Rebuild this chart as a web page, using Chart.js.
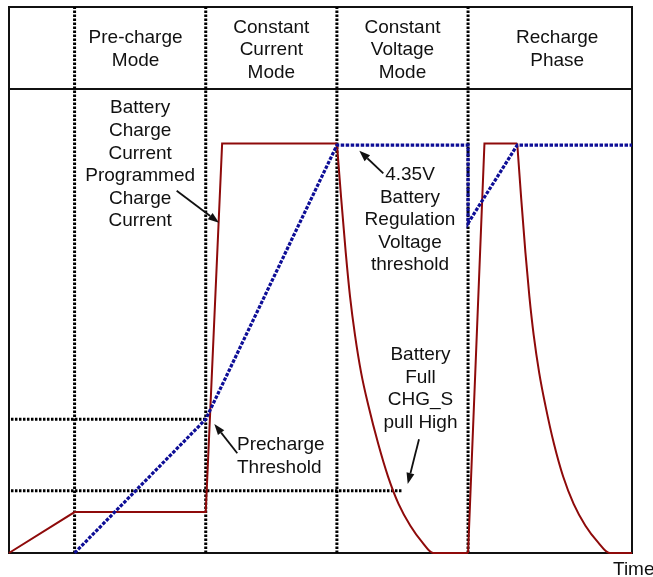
<!DOCTYPE html>
<html><head><meta charset="utf-8">
<script src="https://cdn.jsdelivr.net/npm/chart.js@4.4.1/dist/chart.umd.min.js"></script>
<style>html,body{margin:0;padding:0;background:#fff}canvas{display:block}</style>
</head><body>
<canvas id="c" width="653" height="577"></canvas>
<script>
// ---- data (time units on x, relative level 0..100 on y) ----
const phaseNames = [["Pre-charge","Mode"],["Constant","Current","Mode"],["Constant","Voltage","Mode"],["Recharge","Phase"]];
const phaseLabelX = [1.93, 4.0, 6.0, 8.36];
const phaseLabelY = [93.35, 95.3, 95.3, 93.35];
const phaseBoundaries = [1, 3, 5, 7];
const headerLevel = 85;

const currentStep = [[0,0],[1,7.5],[3,7.5],[3.25,75],[5,75]];
const currentTaper = [[5,75],[5.065,65],[5.135,55],[5.2,47],[5.275,40],[5.37,33],[5.48,27],[5.63,20],[5.78,14],[5.94,9],[6.12,5],[6.3,2],[6.47,0],[7,0]];
const currentRestart = [[7,0],[7.25,75],[7.75,75]];
const currentRetaper = [[7.75,75],[7.81,65],[7.875,55],[7.935,47],[8.0,40],[8.085,33],[8.18,27],[8.31,20],[8.45,14],[8.61,9],[8.79,5],[8.98,2],[9.16,0],[9.5,0]];
const batteryVoltage = [[1,0],[3,24.5],[5,74.7],[7,74.7],[7,60.4],[7.75,74.7],[9.5,74.7]];
const prechargeThreshold = [[0.03,24.5],[3,24.5]];
const fullThreshold = [[0.03,11.4],[6,11.4]];

const notes = [
  {lines:["Battery","Charge","Current","Programmed","Charge","Current"], x:2.0, y:80.53, align:'center'},
  {lines:["4.35V","Battery","Regulation","Voltage","threshold"], x:6.115, y:68.32, align:'center'},
  {lines:["Precharge","Threshold"], x:3.477, y:18.86, align:'left'},
  {lines:["Battery","Full","CHG_S","pull High"], x:6.275, y:35.35, align:'center'},
  {lines:["Time"], x:9.21, y:-4.03, align:'left'}
];
const arrows = [
  {from:[2.557,66.36], to:[3.202,60.49]},
  {from:[5.708,69.54], to:[5.342,73.68]},
  {from:[3.481,18.26], to:[3.131,23.63]},
  {from:[6.252,20.82], to:[6.080,12.64]}
];

// ---- styles ----
const RED = '#8e0a0a', BLUE = '#0d0d96', BLACK = '#000';
const FONT = '19px "Liberation Sans", Arial, sans-serif';
const LINE_H = 22.6;

const pts = a => a.map(p => ({x:p[0], y:p[1]}));
function lineDs(data, color, width, dash, order, extra) {
  return Object.assign({data: pts(data), borderColor: color, borderWidth: width, borderDash: dash || [],
    pointRadius: 0, fill: false, tension: 0, clip: false, order: order, borderCapStyle: 'butt'}, extra || {});
}

const datasets = [
  lineDs(batteryVoltage, BLUE, 3.2, [3.5, 1.5], 0),
  lineDs(currentStep, RED, 2, null, 1),
  lineDs(currentTaper, RED, 2, null, 1, {cubicInterpolationMode: 'monotone'}),
  lineDs(currentRestart, RED, 2, null, 1),
  lineDs(currentRetaper, RED, 2, null, 1, {cubicInterpolationMode: 'monotone'}),
  lineDs(prechargeThreshold, BLACK, 3, [2.5, 1.5], 2),
  lineDs(fullThreshold, BLACK, 3, [2.5, 1.5], 2)
];
phaseBoundaries.forEach(t => datasets.push(lineDs([[t,0],[t,100]], BLACK, 3, [2.5, 1.5], 2)));

const framePlugin = {
  id: 'frame',
  beforeDatasetsDraw(chart) {
    const {ctx, chartArea: a, scales: {y}} = chart;
    ctx.save();
    ctx.strokeStyle = '#111';
    ctx.lineWidth = 2;
    ctx.strokeRect(a.left, a.top, a.right - a.left, a.bottom - a.top);
    const hy = y.getPixelForValue(headerLevel);
    ctx.beginPath(); ctx.moveTo(a.left, hy); ctx.lineTo(a.right, hy); ctx.stroke();
    ctx.restore();
  },
  afterDatasetsDraw(chart) {
    const {ctx, scales: {x, y}} = chart;
    ctx.save();
    ctx.fillStyle = '#111';
    ctx.font = FONT;
    ctx.textBaseline = 'alphabetic';
    const drawLines = (lines, px, py, align) => {
      ctx.textAlign = align;
      lines.forEach((t, i) => ctx.fillText(t, px, py + i * LINE_H));
    };
    phaseNames.forEach((lines, i) => drawLines(lines, x.getPixelForValue(phaseLabelX[i]), y.getPixelForValue(phaseLabelY[i]), 'center'));
    notes.forEach(n => drawLines(n.lines, x.getPixelForValue(n.x), y.getPixelForValue(n.y), n.align));
    ctx.strokeStyle = '#111';
    ctx.lineWidth = 1.8;
    arrows.forEach(a => {
      const x1 = x.getPixelForValue(a.from[0]), y1 = y.getPixelForValue(a.from[1]);
      const x2 = x.getPixelForValue(a.to[0]), y2 = y.getPixelForValue(a.to[1]);
      const ang = Math.atan2(y2 - y1, x2 - x1);
      const hl = 11, hw = 4;
      const bx = x2 - hl * Math.cos(ang), by = y2 - hl * Math.sin(ang);
      ctx.beginPath(); ctx.moveTo(x1, y1); ctx.lineTo(bx, by); ctx.stroke();
      ctx.beginPath();
      ctx.moveTo(x2, y2);
      ctx.lineTo(bx + hw * Math.sin(ang), by - hw * Math.cos(ang));
      ctx.lineTo(bx - hw * Math.sin(ang), by + hw * Math.cos(ang));
      ctx.closePath(); ctx.fill();
    });
    ctx.restore();
  }
};

new Chart(document.getElementById('c'), {
  type: 'line',
  data: {datasets},
  options: {
    responsive: false,
    devicePixelRatio: 1,
    animation: false,
    layout: {padding: {left: 9, top: 7, right: 21, bottom: 24}},
    plugins: {legend: {display: false}, tooltip: {enabled: false}},
    scales: {
      x: {type: 'linear', min: 0, max: 9.5, display: false},
      y: {type: 'linear', min: 0, max: 100, display: false}
    }
  },
  plugins: [framePlugin]
});
</script>
</body></html>
